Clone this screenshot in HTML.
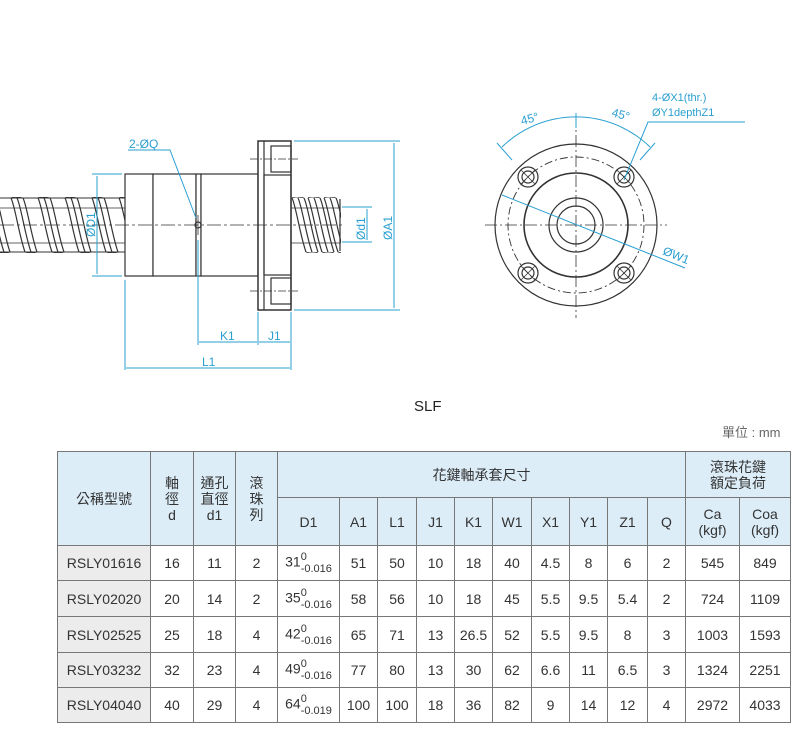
<!DOCTYPE html>
<html><head><meta charset="utf-8"><style>
body{margin:0;width:800px;height:735px;background:#fff;position:relative;overflow:hidden;font-family:"Liberation Sans","Noto Sans CJK TC",sans-serif}
svg{position:absolute;left:0;top:0}
table{position:absolute;left:57px;top:451px;border-collapse:collapse;table-layout:fixed;font-family:"Liberation Sans","Noto Sans CJK TC",sans-serif;font-size:14px;color:#333}
td{border:1px solid #777;text-align:center;padding:0;line-height:16px}
.h{background:#dcedf8}
.m{background:#ececec}
.t{font-size:14px;white-space:nowrap}
</style></head><body>
<svg width="800" height="445" viewBox="0 0 800 445">
<defs>
<clipPath id="sc1"><rect x="0" y="197" width="125" height="56"/></clipPath>
<clipPath id="sc2"><rect x="291" y="197" width="50" height="56"/></clipPath>
<g id="band">
<path d="M0,198 C4,206 8,235 14,252 M6,198 C10,206 14,235 20,252 M12,198 C16,206 20,235 26,252"/>
<path d="M0,198 Q3,196 12,198 M14,252 Q20,254 26,252" stroke-width="0.8"/>
</g>
</defs>
<g stroke="#333" fill="none" stroke-width="1.2">
<g clip-path="url(#sc1)">
<use href="#band" x="-16"/><use href="#band" x="11"/><use href="#band" x="38"/><use href="#band" x="65"/><use href="#band" x="92"/><use href="#band" x="119"/>
</g>
<line x1="0" y1="198" x2="125" y2="198" stroke-width="0.9"/>
<line x1="0" y1="252" x2="125" y2="252" stroke-width="0.9"/>
<line x1="0" y1="208" x2="125" y2="208" stroke-width="0.8"/>
<line x1="0" y1="243" x2="125" y2="243" stroke-width="0.8"/>
<g clip-path="url(#sc2)">
<use href="#band" x="292"/><use href="#band" x="308"/><use href="#band" x="324"/>
</g>
<line x1="291" y1="208" x2="340" y2="208" stroke-width="0.8"/>
<line x1="291" y1="243" x2="340" y2="243" stroke-width="0.8"/>
<line x1="340" y1="199" x2="340" y2="251"/>
<!-- nut -->
<rect x="125" y="174" width="28" height="102" fill="#fff"/>
<rect x="153" y="174" width="43" height="102" fill="#fff"/>
<rect x="196" y="174" width="5" height="102" fill="#fff"/>
<rect x="201" y="174" width="57" height="102" fill="#fff"/>
<rect x="258" y="141" width="33" height="169" stroke-width="1.5" fill="#fff"/>
<line x1="264" y1="141" x2="264" y2="310"/>
<rect x="264" y="175" width="27" height="100"/>
<rect x="271" y="146" width="20" height="26"/>
<rect x="271" y="278" width="20" height="26"/>
<line x1="250" y1="159" x2="298" y2="159" stroke-dasharray="8,2,2,2" stroke-width="0.8"/>
<line x1="250" y1="291" x2="298" y2="291" stroke-dasharray="8,2,2,2" stroke-width="0.8"/>
<line x1="0" y1="225" x2="345" y2="225" stroke-dasharray="14,3,3,3" stroke-width="0.8"/>
<circle cx="198" cy="225" r="3"/>
<line x1="198" y1="215" x2="198" y2="235" stroke-width="0.8"/>
</g>
<g stroke="#2a9fd0" fill="none" stroke-width="1">
<line x1="92" y1="174" x2="122" y2="174"/><line x1="92" y1="276" x2="122" y2="276"/>
<line x1="97" y1="176" x2="97" y2="274"/>
<line x1="294" y1="141" x2="400" y2="141"/><line x1="294" y1="310" x2="400" y2="310"/>
<line x1="394" y1="143" x2="394" y2="308"/>
<line x1="342" y1="207" x2="372" y2="207"/><line x1="342" y1="242" x2="372" y2="242"/>
<line x1="367" y1="209" x2="367" y2="240"/>
<line x1="125" y1="280" x2="125" y2="370"/>
<line x1="198" y1="240" x2="198" y2="345"/>
<line x1="258" y1="312" x2="258" y2="345"/>
<line x1="291" y1="312" x2="291" y2="370"/>
<line x1="199" y1="342" x2="257" y2="342"/><line x1="259" y1="342" x2="290" y2="342"/>
<line x1="126" y1="368" x2="290" y2="368"/>
<polyline points="128,150 170,150 196,218"/>
</g>
<g fill="#2a9fd0" font-size="12" font-family="Liberation Sans,sans-serif">
<text x="129" y="148">2-ØQ</text>
<text x="220" y="340">K1</text>
<text x="268" y="340">J1</text>
<text x="202" y="366">L1</text>
<text transform="translate(95,237) rotate(-90)">ØD1</text>
<text transform="translate(365,240) rotate(-90)">Ød1</text>
<text transform="translate(392,240) rotate(-90)">ØA1</text>
</g>
<g stroke="#333" fill="none" stroke-width="1.2">
<circle cx="576" cy="225" r="81"/>
<circle cx="576" cy="225" r="68" stroke-dasharray="8,3,2,3" stroke-width="0.9"/>
<circle cx="576" cy="225" r="52" stroke-width="1.6"/>
<circle cx="576" cy="225" r="27"/>
<circle cx="576" cy="225" r="19"/>
<g id="hole">
<circle cx="528" cy="177" r="10"/>
<circle cx="528" cy="177" r="6"/>
<line x1="521" y1="170" x2="535" y2="184" stroke-width="0.8"/>
<line x1="535" y1="170" x2="521" y2="184" stroke-width="0.8"/>
</g>
<use href="#hole" transform="translate(1152,0) scale(-1,1)"/>
<use href="#hole" transform="translate(0,450) scale(1,-1)"/>
<use href="#hole" transform="translate(1152,450) scale(-1,-1)"/>
<line x1="485" y1="225" x2="667" y2="225" stroke-dasharray="12,3,2,3" stroke-width="0.8"/>
<line x1="576" y1="115" x2="576" y2="318" stroke-dasharray="12,3,2,3" stroke-width="0.8"/>
</g>
<g stroke="#2a9fd0" fill="none" stroke-width="1">
<path d="M502,147 A106,106 0 0 1 650,147"/>
<line x1="497" y1="143" x2="512" y2="160"/>
<line x1="655" y1="143" x2="640" y2="160"/>
<line x1="576" y1="113" x2="576" y2="128"/>
<polyline points="745,122 648,122 624,180"/>
<line x1="502" y1="195" x2="685" y2="268"/>
</g>
<g fill="#2a9fd0" font-size="12" font-family="Liberation Sans,sans-serif">
<text x="652" y="101" font-size="11">4-ØX1(thr.)</text>
<text x="652" y="116" font-size="11">ØY1depthZ1</text>
<text transform="translate(522,125) rotate(-15)">45°</text>
<text transform="translate(611,116) rotate(15)">45°</text>
<text transform="translate(662,254) rotate(22)">ØW1</text>
</g>
<text x="414" y="411" font-size="15" fill="#222" font-family="Liberation Sans,sans-serif">SLF</text>
<text x="722" y="437" font-size="13" fill="#666" font-family="Liberation Sans,'Noto Sans CJK TC',sans-serif">單位 : mm</text>
</svg>
<table>
<colgroup><col style="width:93px"><col style="width:43px"><col style="width:42px"><col style="width:42px"><col style="width:62px"><col style="width:38px"><col style="width:39px"><col style="width:38px"><col style="width:38px"><col style="width:39px"><col style="width:38px"><col style="width:38px"><col style="width:40px"><col style="width:38px"><col style="width:54px"><col style="width:51px"></colgroup>
<tr style="height:46px"><td class="h" rowspan="2">公稱型號</td><td class="h" rowspan="2">軸<br>徑<br>d</td><td class="h" rowspan="2">通孔<br>直徑<br>d1</td><td class="h" rowspan="2">滾<br>珠<br>列</td><td class="h" colspan="10">花鍵軸承套尺寸</td><td class="h" colspan="2">滾珠花鍵<br>額定負荷</td></tr>
<tr style="height:48px"><td class="h">D1</td><td class="h">A1</td><td class="h">L1</td><td class="h">J1</td><td class="h">K1</td><td class="h">W1</td><td class="h">X1</td><td class="h">Y1</td><td class="h">Z1</td><td class="h">Q</td><td class="h">Ca<br>(kgf)</td><td class="h">Coa<br>(kgf)</td></tr>
<tr style="height:35px"><td class="m">RSLY01616</td><td>16</td><td>11</td><td>2</td><td class="t">31<span style="display:inline-block;vertical-align:middle;line-height:12px;font-size:11px;text-align:left">0<br>-0.016</span></td><td>51</td><td>50</td><td>10</td><td>18</td><td>40</td><td>4.5</td><td>8</td><td>6</td><td>2</td><td>545</td><td>849</td></tr>
<tr style="height:36px"><td class="m">RSLY02020</td><td>20</td><td>14</td><td>2</td><td class="t">35<span style="display:inline-block;vertical-align:middle;line-height:12px;font-size:11px;text-align:left">0<br>-0.016</span></td><td>58</td><td>56</td><td>10</td><td>18</td><td>45</td><td>5.5</td><td>9.5</td><td>5.4</td><td>2</td><td>724</td><td>1109</td></tr>
<tr style="height:36px"><td class="m">RSLY02525</td><td>25</td><td>18</td><td>4</td><td class="t">42<span style="display:inline-block;vertical-align:middle;line-height:12px;font-size:11px;text-align:left">0<br>-0.016</span></td><td>65</td><td>71</td><td>13</td><td>26.5</td><td>52</td><td>5.5</td><td>9.5</td><td>8</td><td>3</td><td>1003</td><td>1593</td></tr>
<tr style="height:35px"><td class="m">RSLY03232</td><td>32</td><td>23</td><td>4</td><td class="t">49<span style="display:inline-block;vertical-align:middle;line-height:12px;font-size:11px;text-align:left">0<br>-0.016</span></td><td>77</td><td>80</td><td>13</td><td>30</td><td>62</td><td>6.6</td><td>11</td><td>6.5</td><td>3</td><td>1324</td><td>2251</td></tr>
<tr style="height:35px"><td class="m">RSLY04040</td><td>40</td><td>29</td><td>4</td><td class="t">64<span style="display:inline-block;vertical-align:middle;line-height:12px;font-size:11px;text-align:left">0<br>-0.019</span></td><td>100</td><td>100</td><td>18</td><td>36</td><td>82</td><td>9</td><td>14</td><td>12</td><td>4</td><td>2972</td><td>4033</td></tr>
</table>
</body></html>
